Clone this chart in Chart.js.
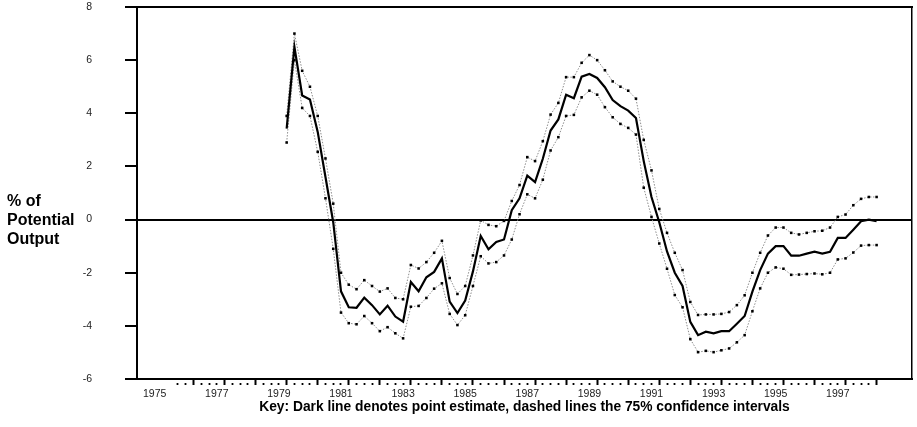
<!DOCTYPE html>
<html>
<head>
<meta charset="utf-8">
<script src="https://cdn.jsdelivr.net/npm/chart.js@4.4.0/dist/chart.umd.min.js"></script>
<style>
  html, body { margin: 0; padding: 0; background: #fff; }
  #wrap { position: relative; width: 917px; height: 427px; overflow: hidden; }
  #c { position: absolute; left: 0; top: 0; }
  .txt { position: absolute; font-family: 'Liberation Sans', Arial, sans-serif; font-weight: bold; color: #000; }
  #ytitle { left: 7px; top: 191px; font-size: 16px; line-height: 19px; }
  #key { left: 137px; width: 775px; top: 399px; font-size: 13.8px; line-height: 16px; text-align: center; }
</style>
</head>
<body>
<div id="wrap">
  <canvas id="c" width="917" height="427"></canvas>
  <div id="ytitle" class="txt">% of<br>Potential<br>Output</div>
  <div id="key" class="txt">Key: Dark line denotes point estimate, dashed lines the 75% confidence intervals</div>
</div>
<script>
// ---- Data ----
const quarters = [
  '1979Q2','1979Q3','1979Q4',
  '1980Q1','1980Q2','1980Q3','1980Q4',
  '1981Q1','1981Q2','1981Q3','1981Q4',
  '1982Q1','1982Q2','1982Q3','1982Q4',
  '1983Q1','1983Q2','1983Q3','1983Q4',
  '1984Q1','1984Q2','1984Q3','1984Q4',
  '1985Q1','1985Q2','1985Q3','1985Q4',
  '1986Q1','1986Q2','1986Q3','1986Q4',
  '1987Q1','1987Q2','1987Q3','1987Q4',
  '1988Q1','1988Q2','1988Q3','1988Q4',
  '1989Q1','1989Q2','1989Q3','1989Q4',
  '1990Q1','1990Q2','1990Q3','1990Q4',
  '1991Q1','1991Q2','1991Q3','1991Q4',
  '1992Q1','1992Q2','1992Q3','1992Q4',
  '1993Q1','1993Q2','1993Q3','1993Q4',
  '1994Q1','1994Q2','1994Q3','1994Q4',
  '1995Q1','1995Q2','1995Q3','1995Q4',
  '1996Q1','1996Q2','1996Q3','1996Q4',
  '1997Q1','1997Q2','1997Q3','1997Q4',
  '1998Q1','1998Q2'
];

const pointEstimate = [
  3.42, 6.5, 4.67, 4.52, 3.3, 1.6, -0.1, -2.7, -3.3, -3.32,
  -2.94, -3.22, -3.57, -3.24, -3.65, -3.84, -2.35, -2.7, -2.17, -1.97,
  -1.46, -3.09, -3.52, -3.05, -1.95, -0.62, -1.12, -0.84, -0.75, 0.35,
  0.8, 1.65, 1.41, 2.29, 3.35, 3.77, 4.7, 4.57, 5.38, 5.48,
  5.33, 4.98, 4.5, 4.27, 4.1, 3.82, 2.2, 0.85, -0.1, -1.2,
  -2.0, -2.5, -3.85, -4.35, -4.22, -4.28, -4.2, -4.2, -3.92, -3.63,
  -2.71, -1.9, -1.28, -1.0, -1.0, -1.36, -1.36, -1.28, -1.21, -1.28,
  -1.21, -0.69, -0.69, -0.38, -0.06, 0.0, -0.06
];

const upperBound = [
  3.9, 7.0, 5.6, 5.0, 3.9, 2.3, 0.6, -2.0, -2.45, -2.62,
  -2.28, -2.5, -2.71, -2.59, -2.95, -3.0, -1.71, -1.84, -1.6, -1.25,
  -0.8, -2.2, -2.8, -2.5, -1.35, -0.03, -0.2, -0.25, -0.05, 0.7,
  1.3, 2.35, 2.2, 2.95, 3.95, 4.39, 5.36, 5.36, 5.9, 6.19,
  6.0, 5.62, 5.2, 5.0, 4.85, 4.55, 3.0, 1.85, 0.4, -0.5,
  -1.25, -1.9, -3.1, -3.59, -3.57, -3.57, -3.55, -3.48, -3.22, -2.85,
  -2.0, -1.25, -0.6, -0.3, -0.3, -0.5, -0.56, -0.5, -0.44, -0.42,
  -0.3, 0.1, 0.19, 0.54, 0.78, 0.85, 0.85
];

const lowerBound = [
  2.9, 6.0, 4.2, 3.9, 2.55, 0.8, -1.1, -3.5, -3.9, -3.94,
  -3.63, -3.9, -4.2, -4.05, -4.28, -4.47, -3.28, -3.25, -2.95, -2.6,
  -2.4, -3.55, -3.97, -3.6, -2.5, -1.38, -1.65, -1.6, -1.35, -0.75,
  0.2, 0.95, 0.8, 1.5, 2.6, 3.1, 3.9, 3.94, 4.6, 4.85,
  4.7, 4.23, 3.85, 3.6, 3.45, 3.2, 1.2, 0.1, -0.9, -1.85,
  -2.84, -3.3, -4.5, -4.99, -4.94, -4.99, -4.92, -4.85, -4.62, -4.35,
  -3.45, -2.59, -2.0, -1.8, -1.85, -2.08, -2.07, -2.05, -2.03, -2.06,
  -2.0, -1.5, -1.46, -1.24, -0.98, -0.96, -0.96
];

const yearLabels = ['1975','1977','1979','1981','1983','1985','1987','1989','1991','1993','1995','1997'];
const yTicks = [8, 6, 4, 2, 0, -2, -4, -6];

// ---- helpers ----
const qToYear = q => Number(q.slice(0, 4)) + (Number(q.slice(5)) - 1) / 4;
const series = vals => quarters.map((q, i) => ({ x: qToYear(q), y: vals[i] }));

const firstYear = Number(yearLabels[0]);
const lastQ = qToYear(quarters[quarters.length - 1]);
const tickMarkStart = firstYear + 0.75;
const xTickValues = [];
for (let v = firstYear; v <= lastQ + 1e-9; v += 0.25) xTickValues.push(Math.round(v * 100) / 100);

const FONT = 'Liberation Sans, Arial, sans-serif';
const isInt = v => Math.abs(v - Math.round(v)) < 1e-6;

const boundStyle = {
  borderColor: '#8c8c8c',
  borderWidth: 1,
  borderDash: [1.5, 1.5],
  pointStyle: 'rect',
  pointRadius: 1.8,
  pointBackgroundColor: '#000',
  pointBorderWidth: 0,
  tension: 0,
  order: 1
};

new Chart(document.getElementById('c'), {
  type: 'line',
  data: {
    datasets: [
      {
        label: 'Point estimate',
        data: series(pointEstimate),
        borderColor: '#000',
        borderWidth: 2.2,
        pointRadius: 0,
        tension: 0,
        order: 0
      },
      Object.assign({ label: 'Upper 75%', data: series(upperBound) }, boundStyle),
      Object.assign({ label: 'Lower 75%', data: series(lowerBound) }, boundStyle)
    ]
  },
  options: {
    responsive: false,
    devicePixelRatio: 1,
    animation: false,
    events: [],
    layout: { padding: { left: 0, right: 5, top: 7, bottom: 0 } },
    plugins: { legend: { display: false }, tooltip: { enabled: false }, title: { display: false } },
    scales: {
      x: {
        type: 'linear',
        position: 'bottom',
        min: 1974.43,
        max: 1999.39,
        afterBuildTicks: s => { s.ticks = xTickValues.map(v => ({ value: v })); },
        afterFit: s => { s.height = 48; s.paddingLeft = 0; s.paddingRight = 0; },
        border: { display: true, color: '#000', width: 2 },
        grid: {
          drawOnChartArea: false,
          drawTicks: true,
          tickLength: 6,
          tickColor: c => (c.tick && c.tick.value >= tickMarkStart - 1e-6) ? '#000' : 'rgba(0,0,0,0)',
          tickWidth: c => (c.tick && isInt(c.tick.value - 0.25)) ? 2 : 1.8,
          tickBorderDash: c => (c.tick && isInt(c.tick.value - 0.25)) ? [] : [2, 3],
          tickBorderDashOffset: 2
        },
        ticks: {
          autoSkip: false,
          maxRotation: 0,
          minRotation: 0,
          padding: 3,
          color: '#222',
          font: { family: FONT, size: 10.5 },
          callback: v => (isInt(v) && yearLabels.includes(String(Math.round(v)))) ? String(Math.round(v)) : ''
        }
      },
      xTop: {
        type: 'linear',
        position: 'top',
        afterFit: s => { s.height = 0; s.paddingLeft = 0; s.paddingRight = 0; },
        border: { display: true, color: '#000', width: 2 },
        grid: { drawOnChartArea: false, drawTicks: false },
        ticks: { display: false }
      },
      y: {
        type: 'linear',
        position: 'left',
        min: -6,
        max: 8,
        afterBuildTicks: s => { s.ticks = yTicks.map(v => ({ value: v })); },
        afterFit: s => { s.width = 137; s.paddingTop = 0; s.paddingBottom = 0; },
        border: { display: true, color: '#000', width: 2 },
        grid: {
          drawOnChartArea: true,
          color: c => (c.tick && c.tick.value === 0) ? '#000' : 'rgba(0,0,0,0)',
          lineWidth: 2,
          tickColor: '#000',
          tickWidth: 2,
          tickLength: 12
        },
        ticks: {
          padding: 33,
          color: '#222',
          font: { family: FONT, size: 10.5 },
          callback: v => String(v)
        }
      },
      yRight: {
        type: 'linear',
        position: 'right',
        afterFit: s => { s.width = 0; s.paddingTop = 0; s.paddingBottom = 0; },
        border: { display: true, color: '#000', width: 1.5 },
        grid: { drawOnChartArea: false, drawTicks: false },
        ticks: { display: false }
      }
    }
  }
});
</script>
</body>
</html>
